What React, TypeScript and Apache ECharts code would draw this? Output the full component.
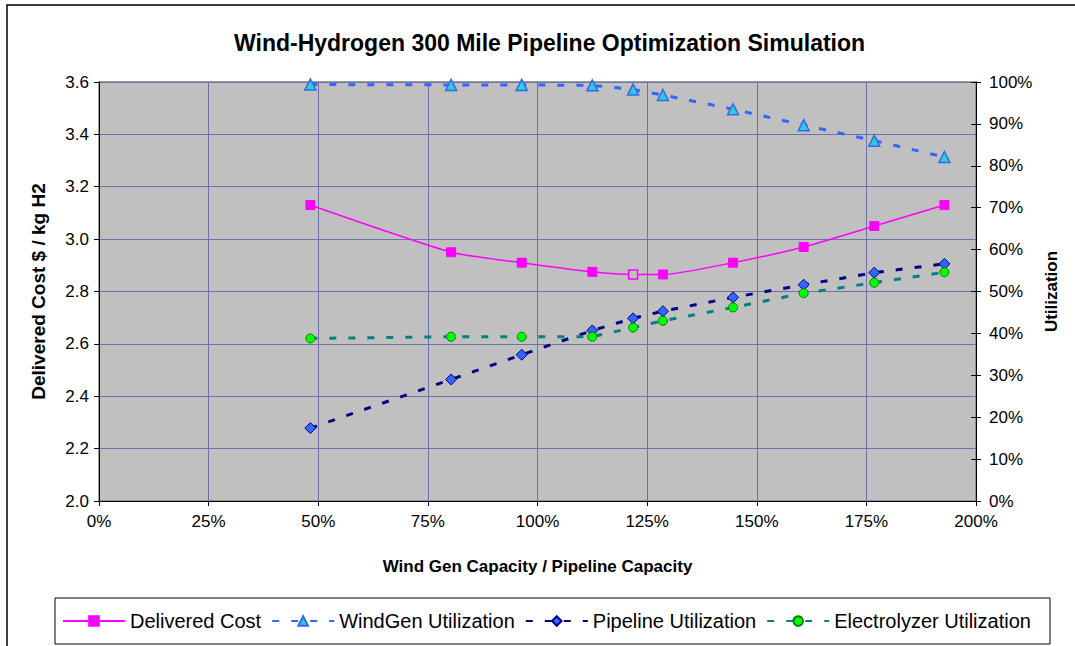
import React, { useEffect, useRef } from "react";
import * as echarts from "echarts";

const titleText = "Wind-Hydrogen 300 Mile Pipeline Optimization Simulation";
const xTitle = "Wind Gen Capacity / Pipeline Capacity";
const yLeftTitle = "Delivered Cost $ / kg H2";
const yRightTitle = "Utilization";

const capacityRatio = [48.2, 80.3, 96.4, 112.5, 121.8, 128.6, 144.6, 160.7, 176.8, 192.8];
const deliveredCost = [3.13, 2.95, 2.91, 2.875, 2.865, 2.865, 2.91, 2.97, 3.05, 3.13];
const windGenUtil = [99.4, 99.3, 99.3, 99.2, 98.2, 96.9, 93.5, 89.7, 86.0, 82.1];
const pipelineUtil = [17.4, 29.0, 34.9, 40.7, 43.6, 45.3, 48.6, 51.6, 54.5, 56.6];
const electrolyzerUtil = [38.8, 39.2, 39.2, 39.2, 41.4, 43.0, 46.2, 49.6, 52.1, 54.6];
const hollowIndex = 4;

const seriesNames = [
  "Delivered Cost",
  "WindGen Utilization",
  "Pipeline Utilization",
  "Electrolyzer Utilization",
];

const FONT = "'Liberation Sans', Arial, sans-serif";

export default function App() {
  const ref = useRef<HTMLDivElement>(null);
  useEffect(() => {
    if (!ref.current) return;
    const chart = echarts.init(ref.current, null, { renderer: "svg" });
    const pairs = (ys: number[]) => capacityRatio.map((x, i) => [x, ys[i]]);
    const costData = capacityRatio.map((x, i) =>
      i === hollowIndex
        ? {
            value: [x, deliveredCost[i]],
            itemStyle: { color: "#C0C0C0", borderColor: "#FF00FF", borderWidth: 1.5 },
          }
        : { value: [x, deliveredCost[i]] }
    );
    const dash = [7, 12];
    chart.setOption({
      animation: false,
      textStyle: { fontFamily: FONT },
      title: {
        text: titleText,
        left: 229,
        top: 26,
        textStyle: { fontSize: 23, fontWeight: "bold", color: "#000", fontFamily: FONT },
      },
      graphic: [
        {
          type: "rect",
          shape: { x: 7, y: 5, width: 1200, height: 800 },
          style: { fill: "none", stroke: "#000", lineWidth: 1.5 },
          silent: true,
          z: -10,
        },
        {
          type: "rect",
          shape: { x: 55, y: 598, width: 995, height: 46 },
          style: { fill: "#fff", stroke: "#000", lineWidth: 1 },
          silent: true,
          z: -5,
        },
      ],
      legend: {
        data: seriesNames,
        left: 62,
        top: 611,
        itemWidth: 62,
        itemHeight: 12,
        itemGap: 10,
        textStyle: { fontSize: 20, color: "#000", fontFamily: FONT },
        padding: 0,
      },
      grid: {
        left: 99,
        right: 99,
        top: 82,
        bottom: 145,
        show: true,
        backgroundColor: "#C0C0C0",
        borderColor: "#808080",
        borderWidth: 1.5,
      },
      xAxis: {
        type: "value",
        min: 0,
        max: 200,
        interval: 25,
        name: xTitle,
        nameLocation: "middle",
        nameGap: 57,
        nameTextStyle: { fontSize: 17, fontWeight: "bold", color: "#000", fontFamily: FONT },
        axisLine: { show: true, lineStyle: { color: "#000", width: 1 } },
        axisTick: { show: true, length: 5, lineStyle: { color: "#000" } },
        axisLabel: {
          formatter: (v: number) => `${v}%`,
          fontSize: 17,
          color: "#000",
          margin: 12,
          fontFamily: FONT,
        },
        splitLine: { show: true, lineStyle: { color: "#7070A8", width: 1 } },
      },
      yAxis: [
        {
          type: "value",
          min: 2.0,
          max: 3.6,
          interval: 0.2,
          position: "left",
          name: yLeftTitle,
          nameLocation: "middle",
          nameRotate: 90,
          nameGap: 51,
          nameTextStyle: { fontSize: 19, fontWeight: "bold", color: "#000", fontFamily: FONT },
          axisLine: { show: true, lineStyle: { color: "#000", width: 1 } },
          axisTick: { show: true, length: 5, lineStyle: { color: "#000" } },
          axisLabel: {
            formatter: (v: number) => v.toFixed(1),
            fontSize: 17,
            color: "#000",
            margin: 10,
            fontFamily: FONT,
          },
          splitLine: { show: true, lineStyle: { color: "#7070A8", width: 1 } },
        },
        {
          type: "value",
          min: 0,
          max: 100,
          interval: 10,
          position: "right",
          name: yRightTitle,
          nameLocation: "middle",
          nameRotate: 90,
          nameGap: 67,
          nameTextStyle: { fontSize: 17, fontWeight: "bold", color: "#000", fontFamily: FONT },
          axisLine: { show: true, lineStyle: { color: "#000", width: 1 } },
          axisTick: { show: true, length: 5, lineStyle: { color: "#000" } },
          axisLabel: {
            formatter: (v: number) => `${v}%`,
            fontSize: 17,
            color: "#000",
            margin: 13,
            fontFamily: FONT,
          },
          splitLine: { show: false },
        },
        {
          type: "value",
          min: 0,
          max: 100,
          interval: 10,
          position: "right",
          axisLine: { show: false },
          axisTick: { show: true, inside: true, length: 5, lineStyle: { color: "#000" } },
          axisLabel: { show: false },
          splitLine: { show: false },
        },
      ],
      series: [
        {
          name: seriesNames[0],
          type: "line",
          yAxisIndex: 0,
          data: costData,
          smooth: 0.2,
          symbol: "rect",
          symbolSize: 9,
          lineStyle: { color: "#FF00FF", width: 1.5 },
          itemStyle: { color: "#FF00FF", borderColor: "#FF00FF", borderWidth: 1 },
          z: 3,
        },
        {
          name: seriesNames[1],
          type: "line",
          yAxisIndex: 1,
          data: pairs(windGenUtil),
          symbol: "triangle",
          symbolSize: 11,
          lineStyle: { color: "#3366FF", width: 3, type: dash },
          itemStyle: { color: "#33CCCC", borderColor: "#3366FF", borderWidth: 1.5 },
          z: 4,
        },
        {
          name: seriesNames[2],
          type: "line",
          yAxisIndex: 1,
          data: pairs(pipelineUtil),
          symbol: "diamond",
          symbolSize: 11,
          lineStyle: { color: "#000080", width: 3, type: dash },
          itemStyle: { color: "#3366FF", borderColor: "#000080", borderWidth: 1 },
          z: 5,
        },
        {
          name: seriesNames[3],
          type: "line",
          yAxisIndex: 1,
          data: pairs(electrolyzerUtil),
          symbol: "circle",
          symbolSize: 9,
          lineStyle: { color: "#008080", width: 3, type: dash },
          itemStyle: { color: "#00FF00", borderColor: "#008000", borderWidth: 1 },
          z: 6,
        },
      ],
    });
    return () => chart.dispose();
  }, []);
  return (
    <div
      ref={ref}
      style={{ position: "fixed", left: 0, top: 0, width: 1075, height: 646, background: "#fff" }}
    />
  );
}
